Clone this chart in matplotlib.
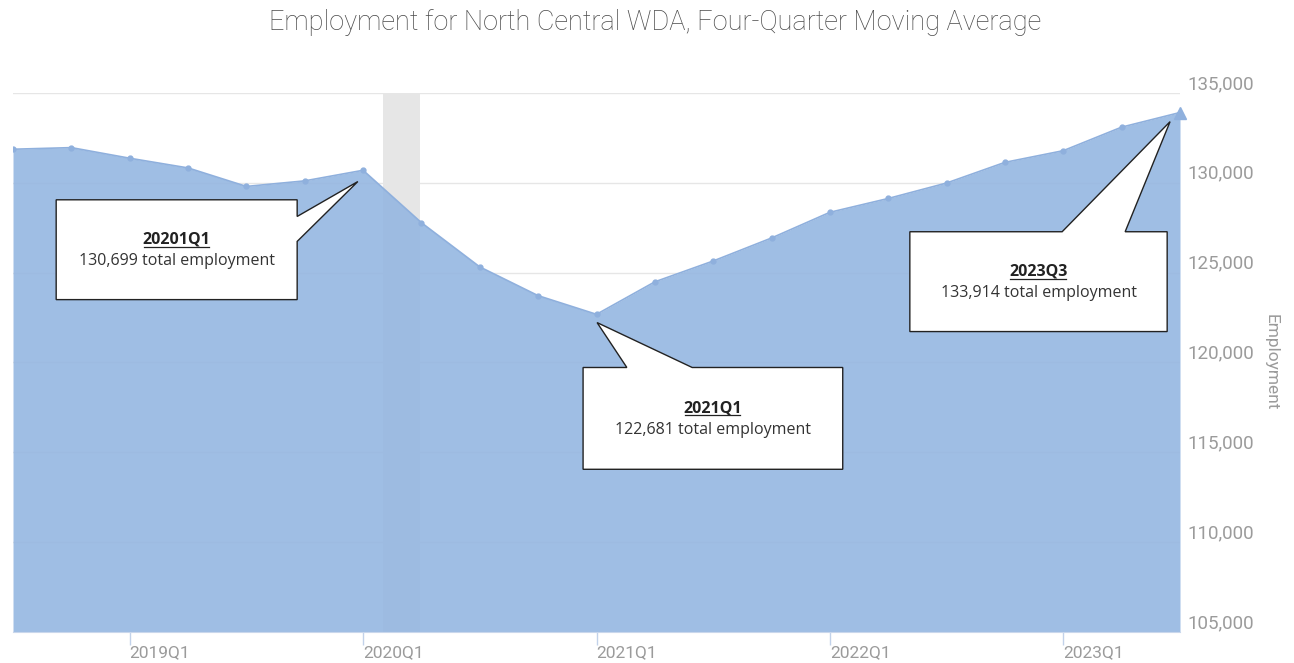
import numpy as np
import matplotlib
matplotlib.use("Agg")
import matplotlib.pyplot as plt
from matplotlib.patches import Polygon
from matplotlib.lines import Line2D
from matplotlib.ticker import FuncFormatter

# Four-quarter moving average, 2018Q3 .. 2023Q3
quarters = ["2018Q3", "2018Q4", "2019Q1", "2019Q2", "2019Q3", "2019Q4",
            "2020Q1", "2020Q2", "2020Q3", "2020Q4", "2021Q1", "2021Q2",
            "2021Q3", "2021Q4", "2022Q1", "2022Q2", "2022Q3", "2022Q4",
            "2023Q1", "2023Q2", "2023Q3"]
employment = [131870, 131960, 131370, 130830, 129800, 130110,
              130699, 127780, 125320, 123720, 122681, 124490,
              125650, 126930, 128360, 129130, 129990, 131140,
              131790, 133100, 133914]

tick_labels = ["2019Q1", "2020Q1", "2021Q1", "2022Q1", "2023Q1"]

# recession shading (Feb 2020 - Apr 2020), in quarter index units
recession = (6.34, 6.98)

# callouts: quarter label, value, box (x0, x1, y_top, y_bottom), pointer base, tip
callouts = [
    dict(label="20201Q1", value=130699, box=(0.74, 4.87, 129056, 123500),
         side="right", base=(128128, 126739), tip=(5.91, 130072)),
    dict(label="2021Q1", value=122681, box=(9.77, 14.22, 119722, 114056),
         side="top", base=(10.52, 11.64), tip=(10.01, 122222)),
    dict(label="2023Q3", value=133914, box=(15.37, 19.78, 127278, 121722),
         side="top", base=(17.98, 19.06), tip=(19.83, 133406)),
]

x = np.arange(len(quarters))

fig = plt.figure(figsize=(12.94, 6.63), dpi=100)
ax = fig.add_axes([13 / 1294, 1 - 632 / 663, 1167 / 1294, 539 / 663])

ax.axvspan(recession[0], recession[1], color="#e6e6e6", zorder=1, lw=0)
ax.fill_between(x, employment, 105000, color="#95b7e1", alpha=0.9, zorder=2, lw=0)
ax.plot(x, employment, color="#8fb0dd", lw=1.2, marker="o", ms=3.5, zorder=3)
ax.plot(x[-1], employment[-1], color="#8fb0dd", marker="^", ms=9, zorder=3,
        clip_on=False)

ax.set_xlim(0, len(quarters) - 1)
ax.set_ylim(105000, 135000)
ax.set_yticks(np.arange(105000, 135001, 5000))
ax.yaxis.set_major_formatter(FuncFormatter(lambda v, p: f"{int(v):,}"))
ax.yaxis.tick_right()
ax.yaxis.set_label_position("right")
ax.tick_params(axis="y", length=0, pad=5, labelsize=13.5, labelcolor="#9b9b9b")
for lab in ax.get_yticklabels():
    lab.set_fontfamily("Roboto")
    lab.set_va("bottom")
ax.set_ylabel("Employment", rotation=-90, labelpad=18, fontsize=12.5,
              color="#9b9b9b", family="Roboto")

ax.set_xticks([quarters.index(t) for t in tick_labels])
ax.set_xticklabels(tick_labels, ha="left", family="Roboto")
ax.tick_params(axis="x", length=9, width=1, color="#c2d2ea", pad=0.5,
               labelsize=12.5, labelcolor="#9b9b9b")

ax.yaxis.grid(True, color="#e6e6e6", lw=1)
ax.set_axisbelow(True)
for s in ["top", "left", "right"]:
    ax.spines[s].set_visible(False)
ax.spines["bottom"].set_color("#c9d7ec")

fig.text(0.5066, 1 - 23 / 663, "Employment for North Central WDA, Four-Quarter Moving Average",
         ha="center", va="center", fontsize=19.5, color="#4a4a4a", family="Roboto",
         weight="light")

label_texts = []
for c in callouts:
    x0, x1, yt, yb = c["box"]
    tx, ty = c["tip"]
    if c["side"] == "right":
        b1, b2 = c["base"]
        pts = [(x0, yt), (x1, yt), (x1, b1), (tx, ty), (x1, b2), (x1, yb), (x0, yb)]
    else:
        b1, b2 = c["base"]
        pts = [(x0, yt), (b1, yt), (tx, ty), (b2, yt), (x1, yt), (x1, yb), (x0, yb)]
    ax.add_patch(Polygon(pts, closed=True, facecolor="white", edgecolor="#222222",
                         lw=1, zorder=5))
    xc = (x0 + x1) / 2
    h = yt - yb
    t = ax.text(xc, yt - 0.40 * h, c["label"], ha="center", va="center",
                fontsize=11.5, weight="bold", color="#222222", family="Open Sans", zorder=6)
    ax.text(xc, yt - 0.61 * h, f"{c['value']:,} total employment", ha="center",
            va="center", fontsize=11.5, color="#333333", family="Open Sans", zorder=6)
    label_texts.append(t)

# underline the bold quarter labels
fig.canvas.draw()
r = fig.canvas.get_renderer()
for t in label_texts:
    bb = t.get_window_extent(renderer=r)
    inv = fig.transFigure.inverted()
    (fx0, fy0), (fx1, _) = inv.transform([(bb.x0 + 1, bb.y0 + 1), (bb.x1 - 2, bb.y0 + 1)])
    fig.add_artist(Line2D([fx0, fx1], [fy0, fy0], color="#222222", lw=0.9, zorder=7))

fig.savefig("out.png", dpi=100)
